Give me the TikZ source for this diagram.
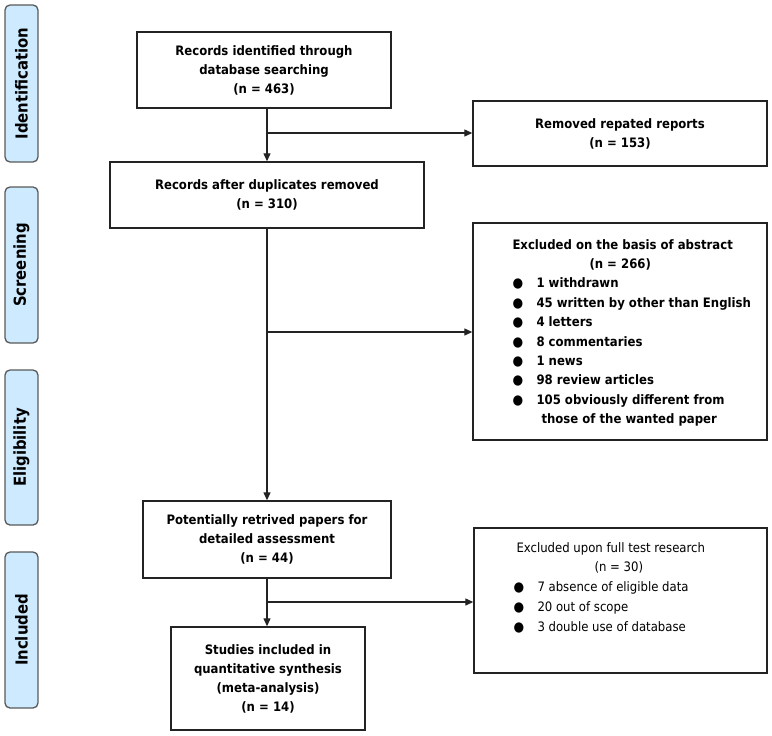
\documentclass[tikz,border=0pt]{standalone}
\usepackage{fontspec}
\setmainfont{DejaVu Sans Condensed}
\usetikzlibrary{arrows.meta}
\definecolor{phasefill}{RGB}{206,234,255}
\definecolor{linec}{RGB}{35,35,35}
\newcommand{\bul}{\makebox[24pt][l]{\fontsize{13.5}{13.5}\selectfont ●}}
\begin{document}
\begin{tikzpicture}[x=1pt,y=-1pt,
  box/.style={draw=linec, line width=1.4pt, inner sep=0pt, align=center,
    font=\bfseries\fontsize{13}{19}\selectfont},
  listtext/.style={anchor=north west, inner sep=0pt, align=left},
  phase/.style={draw=black!65, line width=1.3pt, fill=phasefill, rounded corners=5pt,
    rotate=90, inner sep=0pt, minimum height=33pt,
    font=\bfseries\fontsize{16.5}{18}\selectfont},
  arr/.style={-{Triangle[length=8pt,width=7pt]}, line width=1.3pt, draw=linec},
  ln/.style={line width=1.3pt, draw=linec}]
\useasboundingbox (0,0) rectangle (772,736);

% phase labels
\node[phase, minimum width=157pt] (pid) at (21.5,83.5) {Identification};
\node[phase, minimum width=156pt] (psc) at (21.5,265) {Screening};
\node[phase, minimum width=155pt] (pel) at (21.5,447.5) {Eligibility};
\node[phase, minimum width=156pt] (pin) at (21.5,630) {Included};

% main boxes
\node[box, minimum width=254pt, minimum height=76pt] (b1) at (264,70)
  {Records identified through\\database searching\\(n = 463)};
\node[box, minimum width=294pt, minimum height=65pt] (rem) at (620,133.5)
  {Removed repated reports\\(n = 153)};
\node[box, minimum width=314pt, minimum height=66pt] (b2) at (267,195)
  {Records after duplicates removed\\(n = 310)};
\node[box, minimum width=294pt, minimum height=217pt] (exa) at (620,331.5) {};
\node[listtext, font=\bfseries\fontsize{13}{19.4}\selectfont] (exat)
  at ([xshift=40pt,yshift=-13pt]exa.north west)
  {\begin{tabular}{@{}l@{}l@{}}
   \multicolumn{2}{@{}l@{}}{Excluded on the basis of abstract}\\
   \multicolumn{2}{@{}l@{}}{\hspace{77pt}(n = 266)}\\
   \bul & 1 withdrawn\\
   \bul & 45 written by other than English\\
   \bul & 4 letters\\
   \bul & 8 commentaries\\
   \bul & 1 news\\
   \bul & 98 review articles\\
   \bul & 105 obviously different from\\
        & \hspace{5pt}those of the wanted paper
   \end{tabular}};
\node[box, minimum width=248pt, minimum height=77pt] (b3) at (267,539.5)
  {Potentially retrived papers for\\detailed assessment\\(n = 44)};
\node[box, minimum width=194pt, minimum height=103pt] (b4) at (268,678.5)
  {Studies included in\\quantitative synthesis\\(meta-analysis)\\(n = 14)};
\node[box, minimum width=293pt, minimum height=145pt] (exf) at (620.5,600.5) {};
\node[listtext, font=\fontsize{13}{19.7}\selectfont] (exft)
  at ([xshift=40pt,yshift=-11pt]exf.north west)
  {\begin{tabular}{@{}l@{}l@{}}
   \multicolumn{2}{@{}l@{}}{\hspace{3pt}Excluded upon full test research}\\
   \multicolumn{2}{@{}l@{}}{\hspace{81pt}(n = 30)}\\
   \bul & 7 absence of eligible data\\
   \bul & 20 out of scope\\
   \bul & 3 double use of database
   \end{tabular}};

% connectors
\coordinate (j1) at (267,133);
\coordinate (j2) at (267,332);
\coordinate (j3) at (267,602);
\draw[arr] (b1.south -| b2.north) -- (b2.north);
\draw[arr] (j1) -- (j1 -| rem.west);
\draw[arr] (b2.south) -- (b3.north);
\draw[arr] (j2) -- (j2 -| exa.west);
\draw[arr] (b3.south) -- (b3.south |- b4.north);
\draw[arr] (j3) -- (j3 -| exf.west);
\end{tikzpicture}
\end{document}
